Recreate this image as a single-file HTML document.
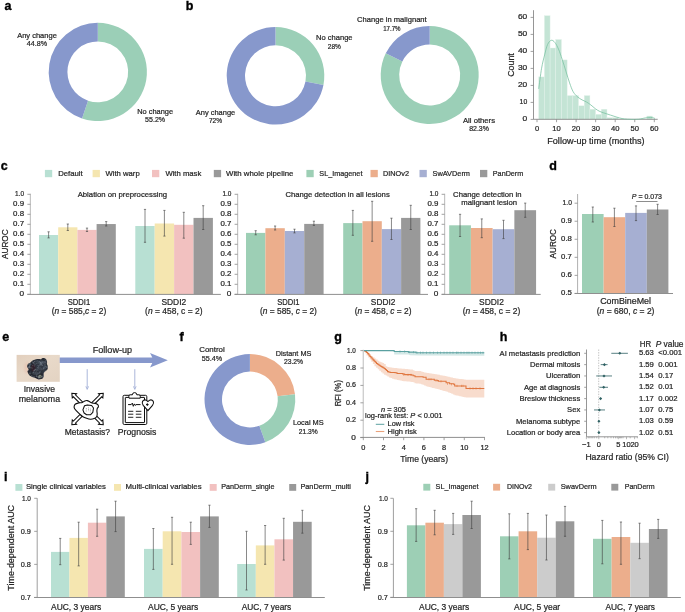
<!DOCTYPE html>
<html><head><meta charset="utf-8"><style>
html,body{margin:0;padding:0;background:#fff;}
svg{display:block;will-change:transform;}
text{font-family:"Liberation Sans",sans-serif;stroke:#262626;stroke-width:0.22px;}
</style></head><body>
<svg width="685" height="612" viewBox="0 0 685 612" fill="#262626">
<rect width="685" height="612" fill="#fff"/>
<text x="4.5" y="9.8" font-size="12.5" font-weight="bold" fill="#000" style="stroke:#000;stroke-width:0.35px">a</text>
<path d="M97.80,22.80A49.1,49.1 0 1 1 82.06,118.41L88.05,100.70A30.4,30.4 0 1 0 97.80,41.50Z" fill="#9bcfb7"/>
<path d="M82.06,118.41A49.1,49.1 0 0 1 97.80,22.80L97.80,41.50A30.4,30.4 0 0 0 88.05,100.70Z" fill="#8798cc"/>
<text x="37" y="38" font-size="7.5" text-anchor="middle" textLength="39.7" lengthAdjust="spacingAndGlyphs">Any change</text>
<text x="37" y="46.4" font-size="7.5" text-anchor="middle" textLength="20.3" lengthAdjust="spacingAndGlyphs">44.8%</text>
<text x="155.1" y="113.9" font-size="7.5" text-anchor="middle" textLength="35.9" lengthAdjust="spacingAndGlyphs">No change</text>
<text x="155.1" y="121.6" font-size="7.5" text-anchor="middle" textLength="20" lengthAdjust="spacingAndGlyphs">55.2%</text>
<text x="185.8" y="9.9" font-size="12.5" font-weight="bold" fill="#000" style="stroke:#000;stroke-width:0.35px">b</text>
<path d="M275.50,27.00A48.8,48.8 0 0 1 323.44,84.94L305.46,81.52A30.5,30.5 0 0 0 275.50,45.30Z" fill="#9bcfb7"/>
<path d="M323.44,84.94A48.8,48.8 0 1 1 275.50,27.00L275.50,45.30A30.5,30.5 0 1 0 305.46,81.52Z" fill="#8798cc"/>
<text x="334.3" y="40.2" font-size="7.5" text-anchor="middle" textLength="36.5" lengthAdjust="spacingAndGlyphs">No change</text>
<text x="334.3" y="48.6" font-size="7.5" text-anchor="middle" textLength="13.1" lengthAdjust="spacingAndGlyphs">28%</text>
<text x="215.5" y="114.8" font-size="7.5" text-anchor="middle" textLength="39.4" lengthAdjust="spacingAndGlyphs">Any change</text>
<text x="215.5" y="123" font-size="7.5" text-anchor="middle" textLength="13.1" lengthAdjust="spacingAndGlyphs">72%</text>
<path d="M429.70,26.00A49.0,49.0 0 1 1 385.77,53.29L402.36,61.49A30.5,30.5 0 1 0 429.70,44.50Z" fill="#9bcfb7"/>
<path d="M385.77,53.29A49.0,49.0 0 0 1 429.70,26.00L429.70,44.50A30.5,30.5 0 0 0 402.36,61.49Z" fill="#8798cc"/>
<text x="391.9" y="22.3" font-size="7.5" text-anchor="middle" textLength="69.6" lengthAdjust="spacingAndGlyphs">Change in malignant</text>
<text x="391.9" y="30.7" font-size="7.5" text-anchor="middle" textLength="17.4" lengthAdjust="spacingAndGlyphs">17.7%</text>
<text x="479" y="122.8" font-size="7.5" text-anchor="middle" textLength="32" lengthAdjust="spacingAndGlyphs">All others</text>
<text x="479.05" y="130.8" font-size="7.5" text-anchor="middle" textLength="19.7" lengthAdjust="spacingAndGlyphs">82.3%</text>
<rect x="538.7" y="76.9" width="5.69" height="42.5" fill="#c4e4d5" stroke="#e4f2eb" stroke-width="0.4"/>
<rect x="544.39" y="15.7" width="5.69" height="103.7" fill="#c4e4d5" stroke="#e4f2eb" stroke-width="0.4"/>
<rect x="550.08" y="48" width="5.69" height="71.4" fill="#c4e4d5" stroke="#e4f2eb" stroke-width="0.4"/>
<rect x="555.77" y="39.5" width="5.69" height="79.9" fill="#c4e4d5" stroke="#e4f2eb" stroke-width="0.4"/>
<rect x="561.46" y="59.9" width="5.69" height="59.5" fill="#c4e4d5" stroke="#e4f2eb" stroke-width="0.4"/>
<rect x="567.15" y="95.6" width="5.69" height="23.8" fill="#c4e4d5" stroke="#e4f2eb" stroke-width="0.4"/>
<rect x="572.84" y="95.6" width="5.69" height="23.8" fill="#c4e4d5" stroke="#e4f2eb" stroke-width="0.4"/>
<rect x="578.53" y="105.8" width="5.69" height="13.6" fill="#c4e4d5" stroke="#e4f2eb" stroke-width="0.4"/>
<rect x="584.22" y="95.6" width="5.69" height="23.8" fill="#c4e4d5" stroke="#e4f2eb" stroke-width="0.4"/>
<rect x="589.91" y="109.2" width="5.69" height="10.2" fill="#c4e4d5" stroke="#e4f2eb" stroke-width="0.4"/>
<rect x="595.6" y="114.3" width="5.69" height="5.1" fill="#c4e4d5" stroke="#e4f2eb" stroke-width="0.4"/>
<rect x="601.29" y="109.2" width="5.69" height="10.2" fill="#c4e4d5" stroke="#e4f2eb" stroke-width="0.4"/>
<rect x="606.98" y="117.7" width="5.69" height="1.7" fill="#c4e4d5" stroke="#e4f2eb" stroke-width="0.4"/>
<rect x="612.67" y="117.7" width="5.69" height="1.7" fill="#c4e4d5" stroke="#e4f2eb" stroke-width="0.4"/>
<rect x="646.81" y="116" width="5.69" height="3.4" fill="#c4e4d5" stroke="#e4f2eb" stroke-width="0.4"/>
<line x1="533.5" y1="10.2" x2="533.5" y2="119.4" stroke="#8a8a8a" stroke-width="0.9"/>
<line x1="533.5" y1="119.3" x2="657.7" y2="119.3" stroke="#8a8a8a" stroke-width="0.9"/>
<path d="M538.7,88.8C539.18,85.37 540.62,73.83 541.6,68.2C542.58,62.57 543.62,58.92 544.6,55C545.58,51.08 546.40,47.15 547.5,44.7C548.60,42.25 549.97,40.67 551.2,40.3C552.43,39.93 553.68,41.03 554.9,42.5C556.12,43.97 557.28,46.28 558.5,49.1C559.72,51.92 560.97,55.72 562.2,59.4C563.43,63.08 564.67,67.28 565.9,71.2C567.13,75.12 568.38,79.47 569.6,82.9C570.82,86.33 571.87,89.47 573.2,91.8C574.53,94.13 576.12,95.55 577.6,96.9C579.08,98.25 580.62,99.05 582.1,99.9C583.58,100.75 585.03,101.15 586.5,102C587.97,102.85 589.45,103.90 590.9,105C592.35,106.10 593.70,107.52 595.2,108.6C596.70,109.68 597.95,110.62 599.9,111.5C601.85,112.38 604.57,113.12 606.9,113.9C609.23,114.68 611.77,115.52 613.9,116.2C616.03,116.88 617.95,117.55 619.7,118C621.45,118.45 622.52,118.68 624.4,118.9C626.28,119.12 628.67,119.25 631,119.3C633.33,119.35 636.00,119.43 638.4,119.2C640.80,118.97 643.63,118.20 645.4,117.9C647.17,117.60 647.83,117.45 649,117.4C650.17,117.35 651.40,117.42 652.4,117.6C653.40,117.78 654.57,118.35 655,118.5" fill="none" stroke="#7cc3a3" stroke-width="0.8"/>
<line x1="530.6" y1="119.4" x2="533.5" y2="119.4" stroke="#8a8a8a" stroke-width="0.8"/>
<text x="527.2" y="121.15" font-size="7.3" text-anchor="end" textLength="4.7" lengthAdjust="spacingAndGlyphs">0</text>
<line x1="530.6" y1="102.4" x2="533.5" y2="102.4" stroke="#8a8a8a" stroke-width="0.8"/>
<text x="527.2" y="104.15" font-size="7.3" text-anchor="end" textLength="7.6" lengthAdjust="spacingAndGlyphs">10</text>
<line x1="530.6" y1="85.4" x2="533.5" y2="85.4" stroke="#8a8a8a" stroke-width="0.8"/>
<text x="527.2" y="87.15" font-size="7.3" text-anchor="end" textLength="9.3" lengthAdjust="spacingAndGlyphs">20</text>
<line x1="530.6" y1="68.4" x2="533.5" y2="68.4" stroke="#8a8a8a" stroke-width="0.8"/>
<text x="527.2" y="70.15" font-size="7.3" text-anchor="end" textLength="9.3" lengthAdjust="spacingAndGlyphs">30</text>
<line x1="530.6" y1="51.4" x2="533.5" y2="51.4" stroke="#8a8a8a" stroke-width="0.8"/>
<text x="527.2" y="53.15" font-size="7.3" text-anchor="end" textLength="9.3" lengthAdjust="spacingAndGlyphs">40</text>
<line x1="530.6" y1="34.4" x2="533.5" y2="34.4" stroke="#8a8a8a" stroke-width="0.8"/>
<text x="527.2" y="36.15" font-size="7.3" text-anchor="end" textLength="9.3" lengthAdjust="spacingAndGlyphs">50</text>
<line x1="530.6" y1="17.4" x2="533.5" y2="17.4" stroke="#8a8a8a" stroke-width="0.8"/>
<text x="527.2" y="19.15" font-size="7.3" text-anchor="end" textLength="9.3" lengthAdjust="spacingAndGlyphs">60</text>
<line x1="537" y1="119.3" x2="537" y2="122.2" stroke="#8a8a8a" stroke-width="0.8"/>
<text x="537" y="131.4" font-size="7.6" text-anchor="middle">0</text>
<line x1="556.55" y1="119.3" x2="556.55" y2="122.2" stroke="#8a8a8a" stroke-width="0.8"/>
<text x="556.55" y="131.4" font-size="7.6" text-anchor="middle">10</text>
<line x1="576.1" y1="119.3" x2="576.1" y2="122.2" stroke="#8a8a8a" stroke-width="0.8"/>
<text x="576.1" y="131.4" font-size="7.6" text-anchor="middle">20</text>
<line x1="595.65" y1="119.3" x2="595.65" y2="122.2" stroke="#8a8a8a" stroke-width="0.8"/>
<text x="595.65" y="131.4" font-size="7.6" text-anchor="middle">30</text>
<line x1="615.2" y1="119.3" x2="615.2" y2="122.2" stroke="#8a8a8a" stroke-width="0.8"/>
<text x="615.2" y="131.4" font-size="7.6" text-anchor="middle">40</text>
<line x1="634.75" y1="119.3" x2="634.75" y2="122.2" stroke="#8a8a8a" stroke-width="0.8"/>
<text x="634.75" y="131.4" font-size="7.6" text-anchor="middle">50</text>
<line x1="654.3" y1="119.3" x2="654.3" y2="122.2" stroke="#8a8a8a" stroke-width="0.8"/>
<text x="654.3" y="131.4" font-size="7.6" text-anchor="middle">60</text>
<text x="595.9" y="143.6" font-size="9.0" text-anchor="middle" textLength="97.2" lengthAdjust="spacingAndGlyphs">Follow-up time (months)</text>
<text x="514.4" y="65" font-size="8.8" text-anchor="middle" textLength="23.7" lengthAdjust="spacingAndGlyphs" transform="rotate(-90 514.4 65)">Count</text>
<text x="0.8" y="170" font-size="12.5" font-weight="bold" fill="#000" style="stroke:#000;stroke-width:0.35px">c</text>
<rect x="44.9" y="169.9" width="7.3" height="7.3" fill="#b8e0d3"/>
<text x="58.2" y="176.2" font-size="7.7" textLength="24.5" lengthAdjust="spacingAndGlyphs">Default</text>
<rect x="92.6" y="169.9" width="7.3" height="7.3" fill="#f5e6b0"/>
<text x="105.5" y="176.2" font-size="7.7">With warp</text>
<rect x="152" y="169.9" width="7.3" height="7.3" fill="#f2c1c0"/>
<text x="165.4" y="176.2" font-size="7.7">With mask</text>
<rect x="213.8" y="169.9" width="7.3" height="7.3" fill="#999999"/>
<text x="226" y="176.2" font-size="7.7" textLength="67.4" lengthAdjust="spacingAndGlyphs">With whole pipeline</text>
<rect x="306.4" y="169.9" width="7.3" height="7.3" fill="#9dcfb5"/>
<text x="319.3" y="176.2" font-size="7.7" textLength="43.1" lengthAdjust="spacingAndGlyphs">SL_Imagenet</text>
<rect x="370.5" y="169.9" width="7.3" height="7.3" fill="#ecae8c"/>
<text x="383" y="176.2" font-size="7.7" textLength="26" lengthAdjust="spacingAndGlyphs">DINOv2</text>
<rect x="419.5" y="169.9" width="7.3" height="7.3" fill="#a6afd2"/>
<text x="432.5" y="176.2" font-size="7.7" textLength="37.5" lengthAdjust="spacingAndGlyphs">SwAVDerm</text>
<rect x="480" y="169.9" width="7.3" height="7.3" fill="#999999"/>
<text x="492.8" y="176.2" font-size="7.7" textLength="30.5" lengthAdjust="spacingAndGlyphs">PanDerm</text>
<line x1="30.4" y1="193.8" x2="30.4" y2="294.3" stroke="#c4c4c4" stroke-width="1.2"/>
<line x1="27.4" y1="294.3" x2="30.4" y2="294.3" stroke="#8a8a8a" stroke-width="0.8"/>
<text x="24.1" y="296.3" font-size="7.8" text-anchor="end" textLength="4.6" lengthAdjust="spacingAndGlyphs">0</text>
<line x1="27.4" y1="284.3" x2="30.4" y2="284.3" stroke="#8a8a8a" stroke-width="0.8"/>
<text x="24.1" y="286.3" font-size="7.8" text-anchor="end" textLength="11" lengthAdjust="spacingAndGlyphs">0.1</text>
<line x1="27.4" y1="274.3" x2="30.4" y2="274.3" stroke="#8a8a8a" stroke-width="0.8"/>
<text x="24.1" y="276.3" font-size="7.8" text-anchor="end" textLength="11" lengthAdjust="spacingAndGlyphs">0.2</text>
<line x1="27.4" y1="264.3" x2="30.4" y2="264.3" stroke="#8a8a8a" stroke-width="0.8"/>
<text x="24.1" y="266.3" font-size="7.8" text-anchor="end" textLength="11" lengthAdjust="spacingAndGlyphs">0.3</text>
<line x1="27.4" y1="254.3" x2="30.4" y2="254.3" stroke="#8a8a8a" stroke-width="0.8"/>
<text x="24.1" y="256.3" font-size="7.8" text-anchor="end" textLength="11" lengthAdjust="spacingAndGlyphs">0.4</text>
<line x1="27.4" y1="244.3" x2="30.4" y2="244.3" stroke="#8a8a8a" stroke-width="0.8"/>
<text x="24.1" y="246.3" font-size="7.8" text-anchor="end" textLength="11" lengthAdjust="spacingAndGlyphs">0.5</text>
<line x1="27.4" y1="234.3" x2="30.4" y2="234.3" stroke="#8a8a8a" stroke-width="0.8"/>
<text x="24.1" y="236.3" font-size="7.8" text-anchor="end" textLength="11" lengthAdjust="spacingAndGlyphs">0.6</text>
<line x1="27.4" y1="224.3" x2="30.4" y2="224.3" stroke="#8a8a8a" stroke-width="0.8"/>
<text x="24.1" y="226.3" font-size="7.8" text-anchor="end" textLength="11" lengthAdjust="spacingAndGlyphs">0.7</text>
<line x1="27.4" y1="214.3" x2="30.4" y2="214.3" stroke="#8a8a8a" stroke-width="0.8"/>
<text x="24.1" y="216.3" font-size="7.8" text-anchor="end" textLength="11" lengthAdjust="spacingAndGlyphs">0.8</text>
<line x1="27.4" y1="204.3" x2="30.4" y2="204.3" stroke="#8a8a8a" stroke-width="0.8"/>
<text x="24.1" y="206.3" font-size="7.8" text-anchor="end" textLength="11" lengthAdjust="spacingAndGlyphs">0.9</text>
<line x1="27.4" y1="194.3" x2="30.4" y2="194.3" stroke="#8a8a8a" stroke-width="0.8"/>
<text x="24.1" y="196.3" font-size="7.8" text-anchor="end" textLength="9" lengthAdjust="spacingAndGlyphs">1.0</text>
<rect x="39" y="235" width="19.2" height="59.3" fill="#b8e0d3"/>
<rect x="58.2" y="227.3" width="19.2" height="67" fill="#f5e6b0"/>
<rect x="77.4" y="229.9" width="19.2" height="64.4" fill="#f2c1c0"/>
<rect x="96.6" y="224.05" width="19.2" height="70.25" fill="#999999"/>
<line x1="48.6" y1="231.8" x2="48.6" y2="237.9" stroke="#404040" stroke-width="0.62"/>
<line x1="47.5" y1="231.8" x2="49.7" y2="231.8" stroke="#404040" stroke-width="0.62"/>
<line x1="47.5" y1="237.9" x2="49.7" y2="237.9" stroke="#404040" stroke-width="0.62"/>
<line x1="67.8" y1="224" x2="67.8" y2="230.5" stroke="#404040" stroke-width="0.62"/>
<line x1="66.7" y1="224" x2="68.9" y2="224" stroke="#404040" stroke-width="0.62"/>
<line x1="66.7" y1="230.5" x2="68.9" y2="230.5" stroke="#404040" stroke-width="0.62"/>
<line x1="87" y1="228.1" x2="87" y2="231.5" stroke="#404040" stroke-width="0.62"/>
<line x1="85.9" y1="228.1" x2="88.1" y2="228.1" stroke="#404040" stroke-width="0.62"/>
<line x1="85.9" y1="231.5" x2="88.1" y2="231.5" stroke="#404040" stroke-width="0.62"/>
<line x1="106.2" y1="221.6" x2="106.2" y2="226" stroke="#404040" stroke-width="0.62"/>
<line x1="105.1" y1="221.6" x2="107.3" y2="221.6" stroke="#404040" stroke-width="0.62"/>
<line x1="105.1" y1="226" x2="107.3" y2="226" stroke="#404040" stroke-width="0.62"/>
<rect x="135.3" y="226" width="19.4" height="68.3" fill="#b8e0d3"/>
<rect x="154.7" y="223.5" width="19.4" height="70.8" fill="#f5e6b0"/>
<rect x="174.1" y="224.8" width="19.4" height="69.5" fill="#f2c1c0"/>
<rect x="193.5" y="217.9" width="19.4" height="76.4" fill="#999999"/>
<line x1="145" y1="209.4" x2="145" y2="242.3" stroke="#404040" stroke-width="0.62"/>
<line x1="143.9" y1="209.4" x2="146.1" y2="209.4" stroke="#404040" stroke-width="0.62"/>
<line x1="143.9" y1="242.3" x2="146.1" y2="242.3" stroke="#404040" stroke-width="0.62"/>
<line x1="164.4" y1="210.4" x2="164.4" y2="236.1" stroke="#404040" stroke-width="0.62"/>
<line x1="163.3" y1="210.4" x2="165.5" y2="210.4" stroke="#404040" stroke-width="0.62"/>
<line x1="163.3" y1="236.1" x2="165.5" y2="236.1" stroke="#404040" stroke-width="0.62"/>
<line x1="183.8" y1="212.3" x2="183.8" y2="238.2" stroke="#404040" stroke-width="0.62"/>
<line x1="182.7" y1="212.3" x2="184.9" y2="212.3" stroke="#404040" stroke-width="0.62"/>
<line x1="182.7" y1="238.2" x2="184.9" y2="238.2" stroke="#404040" stroke-width="0.62"/>
<line x1="203.2" y1="205.7" x2="203.2" y2="229.5" stroke="#404040" stroke-width="0.62"/>
<line x1="202.1" y1="205.7" x2="204.3" y2="205.7" stroke="#404040" stroke-width="0.62"/>
<line x1="202.1" y1="229.5" x2="204.3" y2="229.5" stroke="#404040" stroke-width="0.62"/>
<line x1="27.3" y1="294.4" x2="220.9" y2="294.4" stroke="#8f8f8f" stroke-width="1.0"/>
<text x="122.4" y="197" font-size="7.7" text-anchor="middle" textLength="89.5" lengthAdjust="spacingAndGlyphs">Ablation on preprocessing</text>
<text x="8.1" y="244.2" font-size="8.9" text-anchor="middle" textLength="29.6" lengthAdjust="spacingAndGlyphs" transform="rotate(-90 8.1 244.2)">AUROC</text>
<line x1="237.6" y1="193.8" x2="237.6" y2="294.3" stroke="#c4c4c4" stroke-width="1.2"/>
<line x1="234.6" y1="294.3" x2="237.6" y2="294.3" stroke="#8a8a8a" stroke-width="0.8"/>
<text x="231.4" y="296.3" font-size="7.8" text-anchor="end" textLength="4.6" lengthAdjust="spacingAndGlyphs">0</text>
<line x1="234.6" y1="284.3" x2="237.6" y2="284.3" stroke="#8a8a8a" stroke-width="0.8"/>
<text x="231.4" y="286.3" font-size="7.8" text-anchor="end" textLength="11" lengthAdjust="spacingAndGlyphs">0.1</text>
<line x1="234.6" y1="274.3" x2="237.6" y2="274.3" stroke="#8a8a8a" stroke-width="0.8"/>
<text x="231.4" y="276.3" font-size="7.8" text-anchor="end" textLength="11" lengthAdjust="spacingAndGlyphs">0.2</text>
<line x1="234.6" y1="264.3" x2="237.6" y2="264.3" stroke="#8a8a8a" stroke-width="0.8"/>
<text x="231.4" y="266.3" font-size="7.8" text-anchor="end" textLength="11" lengthAdjust="spacingAndGlyphs">0.3</text>
<line x1="234.6" y1="254.3" x2="237.6" y2="254.3" stroke="#8a8a8a" stroke-width="0.8"/>
<text x="231.4" y="256.3" font-size="7.8" text-anchor="end" textLength="11" lengthAdjust="spacingAndGlyphs">0.4</text>
<line x1="234.6" y1="244.3" x2="237.6" y2="244.3" stroke="#8a8a8a" stroke-width="0.8"/>
<text x="231.4" y="246.3" font-size="7.8" text-anchor="end" textLength="11" lengthAdjust="spacingAndGlyphs">0.5</text>
<line x1="234.6" y1="234.3" x2="237.6" y2="234.3" stroke="#8a8a8a" stroke-width="0.8"/>
<text x="231.4" y="236.3" font-size="7.8" text-anchor="end" textLength="11" lengthAdjust="spacingAndGlyphs">0.6</text>
<line x1="234.6" y1="224.3" x2="237.6" y2="224.3" stroke="#8a8a8a" stroke-width="0.8"/>
<text x="231.4" y="226.3" font-size="7.8" text-anchor="end" textLength="11" lengthAdjust="spacingAndGlyphs">0.7</text>
<line x1="234.6" y1="214.3" x2="237.6" y2="214.3" stroke="#8a8a8a" stroke-width="0.8"/>
<text x="231.4" y="216.3" font-size="7.8" text-anchor="end" textLength="11" lengthAdjust="spacingAndGlyphs">0.8</text>
<line x1="234.6" y1="204.3" x2="237.6" y2="204.3" stroke="#8a8a8a" stroke-width="0.8"/>
<text x="231.4" y="206.3" font-size="7.8" text-anchor="end" textLength="11" lengthAdjust="spacingAndGlyphs">0.9</text>
<line x1="234.6" y1="194.3" x2="237.6" y2="194.3" stroke="#8a8a8a" stroke-width="0.8"/>
<text x="231.4" y="196.3" font-size="7.8" text-anchor="end" textLength="9" lengthAdjust="spacingAndGlyphs">1.0</text>
<rect x="246" y="232.9" width="19.4" height="61.4" fill="#9dcfb5"/>
<rect x="265.4" y="228.2" width="19.4" height="66.1" fill="#ecae8c"/>
<rect x="284.8" y="231" width="19.4" height="63.3" fill="#a6afd2"/>
<rect x="304.2" y="223.9" width="19.4" height="70.4" fill="#999999"/>
<line x1="255.7" y1="230.7" x2="255.7" y2="234.8" stroke="#404040" stroke-width="0.62"/>
<line x1="254.6" y1="230.7" x2="256.8" y2="230.7" stroke="#404040" stroke-width="0.62"/>
<line x1="254.6" y1="234.8" x2="256.8" y2="234.8" stroke="#404040" stroke-width="0.62"/>
<line x1="275.1" y1="226" x2="275.1" y2="230" stroke="#404040" stroke-width="0.62"/>
<line x1="274" y1="226" x2="276.2" y2="226" stroke="#404040" stroke-width="0.62"/>
<line x1="274" y1="230" x2="276.2" y2="230" stroke="#404040" stroke-width="0.62"/>
<line x1="294.5" y1="229.2" x2="294.5" y2="232.9" stroke="#404040" stroke-width="0.62"/>
<line x1="293.4" y1="229.2" x2="295.6" y2="229.2" stroke="#404040" stroke-width="0.62"/>
<line x1="293.4" y1="232.9" x2="295.6" y2="232.9" stroke="#404040" stroke-width="0.62"/>
<line x1="313.9" y1="221.2" x2="313.9" y2="225.4" stroke="#404040" stroke-width="0.62"/>
<line x1="312.8" y1="221.2" x2="315" y2="221.2" stroke="#404040" stroke-width="0.62"/>
<line x1="312.8" y1="225.4" x2="315" y2="225.4" stroke="#404040" stroke-width="0.62"/>
<rect x="343.2" y="223.1" width="19.3" height="71.2" fill="#9dcfb5"/>
<rect x="362.5" y="221.2" width="19.3" height="73.1" fill="#ecae8c"/>
<rect x="381.8" y="229.1" width="19.3" height="65.2" fill="#a6afd2"/>
<rect x="401.1" y="217.9" width="19.3" height="76.4" fill="#999999"/>
<line x1="352.85" y1="210.4" x2="352.85" y2="235.3" stroke="#404040" stroke-width="0.62"/>
<line x1="351.75" y1="210.4" x2="353.95" y2="210.4" stroke="#404040" stroke-width="0.62"/>
<line x1="351.75" y1="235.3" x2="353.95" y2="235.3" stroke="#404040" stroke-width="0.62"/>
<line x1="372.15" y1="201.3" x2="372.15" y2="241.3" stroke="#404040" stroke-width="0.62"/>
<line x1="371.05" y1="201.3" x2="373.25" y2="201.3" stroke="#404040" stroke-width="0.62"/>
<line x1="371.05" y1="241.3" x2="373.25" y2="241.3" stroke="#404040" stroke-width="0.62"/>
<line x1="391.45" y1="218.2" x2="391.45" y2="239.5" stroke="#404040" stroke-width="0.62"/>
<line x1="390.35" y1="218.2" x2="392.55" y2="218.2" stroke="#404040" stroke-width="0.62"/>
<line x1="390.35" y1="239.5" x2="392.55" y2="239.5" stroke="#404040" stroke-width="0.62"/>
<line x1="410.75" y1="205.3" x2="410.75" y2="229.5" stroke="#404040" stroke-width="0.62"/>
<line x1="409.65" y1="205.3" x2="411.85" y2="205.3" stroke="#404040" stroke-width="0.62"/>
<line x1="409.65" y1="229.5" x2="411.85" y2="229.5" stroke="#404040" stroke-width="0.62"/>
<line x1="234.6" y1="294.4" x2="428" y2="294.4" stroke="#8f8f8f" stroke-width="1.0"/>
<text x="337.6" y="197" font-size="7.7" text-anchor="middle" textLength="104.3" lengthAdjust="spacingAndGlyphs">Change detection in all lesions</text>
<line x1="444.6" y1="193.8" x2="444.6" y2="294.3" stroke="#c4c4c4" stroke-width="1.2"/>
<line x1="441.6" y1="294.3" x2="444.6" y2="294.3" stroke="#8a8a8a" stroke-width="0.8"/>
<text x="438.4" y="296.3" font-size="7.8" text-anchor="end" textLength="4.6" lengthAdjust="spacingAndGlyphs">0</text>
<line x1="441.6" y1="284.3" x2="444.6" y2="284.3" stroke="#8a8a8a" stroke-width="0.8"/>
<text x="438.4" y="286.3" font-size="7.8" text-anchor="end" textLength="11" lengthAdjust="spacingAndGlyphs">0.1</text>
<line x1="441.6" y1="274.3" x2="444.6" y2="274.3" stroke="#8a8a8a" stroke-width="0.8"/>
<text x="438.4" y="276.3" font-size="7.8" text-anchor="end" textLength="11" lengthAdjust="spacingAndGlyphs">0.2</text>
<line x1="441.6" y1="264.3" x2="444.6" y2="264.3" stroke="#8a8a8a" stroke-width="0.8"/>
<text x="438.4" y="266.3" font-size="7.8" text-anchor="end" textLength="11" lengthAdjust="spacingAndGlyphs">0.3</text>
<line x1="441.6" y1="254.3" x2="444.6" y2="254.3" stroke="#8a8a8a" stroke-width="0.8"/>
<text x="438.4" y="256.3" font-size="7.8" text-anchor="end" textLength="11" lengthAdjust="spacingAndGlyphs">0.4</text>
<line x1="441.6" y1="244.3" x2="444.6" y2="244.3" stroke="#8a8a8a" stroke-width="0.8"/>
<text x="438.4" y="246.3" font-size="7.8" text-anchor="end" textLength="11" lengthAdjust="spacingAndGlyphs">0.5</text>
<line x1="441.6" y1="234.3" x2="444.6" y2="234.3" stroke="#8a8a8a" stroke-width="0.8"/>
<text x="438.4" y="236.3" font-size="7.8" text-anchor="end" textLength="11" lengthAdjust="spacingAndGlyphs">0.6</text>
<line x1="441.6" y1="224.3" x2="444.6" y2="224.3" stroke="#8a8a8a" stroke-width="0.8"/>
<text x="438.4" y="226.3" font-size="7.8" text-anchor="end" textLength="11" lengthAdjust="spacingAndGlyphs">0.7</text>
<line x1="441.6" y1="214.3" x2="444.6" y2="214.3" stroke="#8a8a8a" stroke-width="0.8"/>
<text x="438.4" y="216.3" font-size="7.8" text-anchor="end" textLength="11" lengthAdjust="spacingAndGlyphs">0.8</text>
<line x1="441.6" y1="204.3" x2="444.6" y2="204.3" stroke="#8a8a8a" stroke-width="0.8"/>
<text x="438.4" y="206.3" font-size="7.8" text-anchor="end" textLength="11" lengthAdjust="spacingAndGlyphs">0.9</text>
<line x1="441.6" y1="194.3" x2="444.6" y2="194.3" stroke="#8a8a8a" stroke-width="0.8"/>
<text x="438.4" y="196.3" font-size="7.8" text-anchor="end" textLength="9" lengthAdjust="spacingAndGlyphs">1.0</text>
<rect x="449.2" y="225.3" width="21.72" height="69" fill="#9dcfb5"/>
<rect x="470.92" y="228" width="21.72" height="66.3" fill="#ecae8c"/>
<rect x="492.64" y="229.2" width="21.72" height="65.1" fill="#a6afd2"/>
<rect x="514.36" y="210.2" width="21.72" height="84.1" fill="#999999"/>
<line x1="460.06" y1="214.3" x2="460.06" y2="236.5" stroke="#404040" stroke-width="0.62"/>
<line x1="458.96" y1="214.3" x2="461.16" y2="214.3" stroke="#404040" stroke-width="0.62"/>
<line x1="458.96" y1="236.5" x2="461.16" y2="236.5" stroke="#404040" stroke-width="0.62"/>
<line x1="481.78" y1="218.9" x2="481.78" y2="237.7" stroke="#404040" stroke-width="0.62"/>
<line x1="480.68" y1="218.9" x2="482.88" y2="218.9" stroke="#404040" stroke-width="0.62"/>
<line x1="480.68" y1="237.7" x2="482.88" y2="237.7" stroke="#404040" stroke-width="0.62"/>
<line x1="503.5" y1="220.3" x2="503.5" y2="238.6" stroke="#404040" stroke-width="0.62"/>
<line x1="502.4" y1="220.3" x2="504.6" y2="220.3" stroke="#404040" stroke-width="0.62"/>
<line x1="502.4" y1="238.6" x2="504.6" y2="238.6" stroke="#404040" stroke-width="0.62"/>
<line x1="525.22" y1="203.1" x2="525.22" y2="217.3" stroke="#404040" stroke-width="0.62"/>
<line x1="524.12" y1="203.1" x2="526.32" y2="203.1" stroke="#404040" stroke-width="0.62"/>
<line x1="524.12" y1="217.3" x2="526.32" y2="217.3" stroke="#404040" stroke-width="0.62"/>
<line x1="441.6" y1="294.4" x2="540.7" y2="294.4" stroke="#8f8f8f" stroke-width="1.0"/>
<text x="487.3" y="196.7" font-size="7.7" text-anchor="middle" textLength="68.4" lengthAdjust="spacingAndGlyphs">Change detection in</text>
<text x="489.2" y="205" font-size="7.7" text-anchor="middle" textLength="55.9" lengthAdjust="spacingAndGlyphs">malignant lesion</text>
<text x="79" y="304.5" font-size="8.7" text-anchor="middle" textLength="22.5" lengthAdjust="spacingAndGlyphs">SDDI1</text>
<text x="79" y="314" font-size="8.7" text-anchor="middle" textLength="54.4" lengthAdjust="spacingAndGlyphs">(<tspan font-style="italic">n</tspan> = 585,<tspan font-style="italic">c</tspan> = 2)</text>
<text x="173.8" y="304.5" font-size="8.7" text-anchor="middle" textLength="24.8" lengthAdjust="spacingAndGlyphs">SDDI2</text>
<text x="173.8" y="314" font-size="8.7" text-anchor="middle" textLength="57.5" lengthAdjust="spacingAndGlyphs">(<tspan font-style="italic">n</tspan> = 458, <tspan>c</tspan> = 2)</text>
<text x="288.4" y="304.5" font-size="8.7" text-anchor="middle" textLength="22.4" lengthAdjust="spacingAndGlyphs">SDDI1</text>
<text x="288.4" y="314" font-size="8.7" text-anchor="middle" textLength="57" lengthAdjust="spacingAndGlyphs">(<tspan font-style="italic">n</tspan> = 585, <tspan font-style="italic">c</tspan> = 2)</text>
<text x="383.1" y="304.5" font-size="8.7" text-anchor="middle" textLength="24.5" lengthAdjust="spacingAndGlyphs">SDDI2</text>
<text x="383.1" y="314" font-size="8.7" text-anchor="middle" textLength="56.7" lengthAdjust="spacingAndGlyphs">(<tspan font-style="italic">n</tspan> = 458, <tspan font-style="italic">c</tspan> = 2)</text>
<text x="491.5" y="304.5" font-size="8.7" text-anchor="middle" textLength="24.8" lengthAdjust="spacingAndGlyphs">SDDI2</text>
<text x="491.5" y="314" font-size="8.7" text-anchor="middle" textLength="57.5" lengthAdjust="spacingAndGlyphs">(<tspan font-style="italic">n</tspan> = 458, <tspan>c</tspan> = 2)</text>
<text x="549.2" y="170.4" font-size="12.5" font-weight="bold" fill="#000" style="stroke:#000;stroke-width:0.35px">d</text>
<line x1="577.6" y1="194" x2="577.6" y2="293.4" stroke="#b0b0b0" stroke-width="1.0"/>
<line x1="574.6" y1="293.4" x2="577.6" y2="293.4" stroke="#8a8a8a" stroke-width="0.8"/>
<text x="571.9" y="294.8" font-size="7.2" text-anchor="end" textLength="10.8" lengthAdjust="spacingAndGlyphs">0.5</text>
<line x1="574.6" y1="275.36" x2="577.6" y2="275.36" stroke="#8a8a8a" stroke-width="0.8"/>
<text x="571.9" y="276.76" font-size="7.2" text-anchor="end" textLength="10.8" lengthAdjust="spacingAndGlyphs">0.6</text>
<line x1="574.6" y1="257.32" x2="577.6" y2="257.32" stroke="#8a8a8a" stroke-width="0.8"/>
<text x="571.9" y="258.72" font-size="7.2" text-anchor="end" textLength="10.8" lengthAdjust="spacingAndGlyphs">0.7</text>
<line x1="574.6" y1="239.28" x2="577.6" y2="239.28" stroke="#8a8a8a" stroke-width="0.8"/>
<text x="571.9" y="240.68" font-size="7.2" text-anchor="end" textLength="10.8" lengthAdjust="spacingAndGlyphs">0.8</text>
<line x1="574.6" y1="221.24" x2="577.6" y2="221.24" stroke="#8a8a8a" stroke-width="0.8"/>
<text x="571.9" y="222.64" font-size="7.2" text-anchor="end" textLength="10.8" lengthAdjust="spacingAndGlyphs">0.9</text>
<line x1="574.6" y1="203.2" x2="577.6" y2="203.2" stroke="#8a8a8a" stroke-width="0.8"/>
<text x="571.9" y="204.6" font-size="7.2" text-anchor="end" textLength="9.3" lengthAdjust="spacingAndGlyphs">1.0</text>
<rect x="582" y="214" width="21.6" height="79.4" fill="#9dcfb5"/>
<rect x="603.6" y="217.2" width="21.6" height="76.2" fill="#ecae8c"/>
<rect x="625.2" y="212.9" width="21.6" height="80.5" fill="#a6afd2"/>
<rect x="646.8" y="209.5" width="21.6" height="83.9" fill="#999999"/>
<line x1="592.8" y1="207" x2="592.8" y2="222" stroke="#404040" stroke-width="0.62"/>
<line x1="591.7" y1="207" x2="593.9" y2="207" stroke="#404040" stroke-width="0.62"/>
<line x1="591.7" y1="222" x2="593.9" y2="222" stroke="#404040" stroke-width="0.62"/>
<line x1="614.4" y1="208.2" x2="614.4" y2="226.5" stroke="#404040" stroke-width="0.62"/>
<line x1="613.3" y1="208.2" x2="615.5" y2="208.2" stroke="#404040" stroke-width="0.62"/>
<line x1="613.3" y1="226.5" x2="615.5" y2="226.5" stroke="#404040" stroke-width="0.62"/>
<line x1="636" y1="205.9" x2="636" y2="220.6" stroke="#404040" stroke-width="0.62"/>
<line x1="634.9" y1="205.9" x2="637.1" y2="205.9" stroke="#404040" stroke-width="0.62"/>
<line x1="634.9" y1="220.6" x2="637.1" y2="220.6" stroke="#404040" stroke-width="0.62"/>
<line x1="657.6" y1="204.3" x2="657.6" y2="214.5" stroke="#404040" stroke-width="0.62"/>
<line x1="656.5" y1="204.3" x2="658.7" y2="204.3" stroke="#404040" stroke-width="0.62"/>
<line x1="656.5" y1="214.5" x2="658.7" y2="214.5" stroke="#404040" stroke-width="0.62"/>
<line x1="574.7" y1="293.5" x2="673" y2="293.5" stroke="#8f8f8f" stroke-width="1.0"/>
<line x1="636.2" y1="201.5" x2="657.5" y2="201.5" stroke="#707070" stroke-width="0.8"/>
<text x="646.9" y="198.8" font-size="7.7" text-anchor="middle" textLength="30.2" lengthAdjust="spacingAndGlyphs"><tspan font-style="italic">P</tspan> = 0.073</text>
<text x="625.6" y="303.6" font-size="8.9" text-anchor="middle" textLength="50.8" lengthAdjust="spacingAndGlyphs">ComBineMel</text>
<text x="625.6" y="313.6" font-size="8.7" text-anchor="middle" textLength="57.7" lengthAdjust="spacingAndGlyphs">(<tspan font-style="italic">n</tspan> = 680, <tspan font-style="italic">c</tspan> = 2)</text>
<text x="555.7" y="243.7" font-size="8.8" text-anchor="middle" textLength="29.4" lengthAdjust="spacingAndGlyphs" transform="rotate(-90 555.7 243.7)">AUROC</text>
<text x="2.3" y="341.1" font-size="12.5" font-weight="bold" fill="#000" style="stroke:#000;stroke-width:0.35px">e</text>
<defs>
<linearGradient id="skin" x1="0" y1="0" x2="1" y2="1"><stop offset="0" stop-color="#e2cfbd"/><stop offset="0.45" stop-color="#e8d9c9"/><stop offset="1" stop-color="#e3d3c2"/></linearGradient>
<radialGradient id="les" cx="0.6" cy="0.4" r="0.65"><stop offset="0" stop-color="#353c47"/><stop offset="0.6" stop-color="#272b33"/><stop offset="1" stop-color="#22252c"/></radialGradient>
<filter id="bl" x="-0.2" y="-0.2" width="1.4" height="1.4"><feGaussianBlur stdDeviation="0.35"/></filter>
<filter id="bl2" x="-0.5" y="-0.5" width="2" height="2"><feGaussianBlur stdDeviation="0.8"/></filter>
<filter id="tex" x="0" y="0" width="1" height="1"><feTurbulence type="fractalNoise" baseFrequency="0.42" numOctaves="2" seed="11" result="n"/><feColorMatrix in="n" type="matrix" values="0 0 0 0 0.33  0 0 0 0 0.38  0 0 0 0 0.45  0 0 0 2.0 -0.9" result="c"/><feComposite in="c" in2="SourceGraphic" operator="in"/><feGaussianBlur stdDeviation="0.4"/></filter>
</defs>
<rect x="16.6" y="354.9" width="43.2" height="26.9" fill="url(#skin)"/>
<ellipse cx="27" cy="368" rx="3" ry="6" fill="#e6bba9" opacity="0.5" filter="url(#bl2)"/>
<g filter="url(#bl)"><path d="M27.3,365.4C27.48,364.92 27.72,364.25 28.2,363.8C28.68,363.35 29.62,363.13 30.2,362.7C30.78,362.27 31.12,361.63 31.7,361.2C32.28,360.77 33.00,360.43 33.7,360.1C34.40,359.77 35.08,359.38 35.9,359.2C36.72,359.02 37.78,359.00 38.6,359C39.42,359.00 40.22,359.32 40.8,359.2C41.38,359.08 41.60,358.48 42.1,358.3C42.60,358.12 43.22,358.03 43.8,358.1C44.38,358.17 45.12,358.33 45.6,358.7C46.08,359.07 46.45,359.70 46.7,360.3C46.95,360.90 47.07,361.68 47.1,362.3C47.13,362.92 46.82,363.45 46.9,364C46.98,364.55 47.45,364.97 47.6,365.6C47.75,366.23 47.83,367.13 47.8,367.8C47.77,368.47 47.73,369.08 47.4,369.6C47.07,370.12 46.32,370.47 45.8,370.9C45.28,371.33 44.67,371.68 44.3,372.2C43.93,372.72 43.68,373.38 43.6,374C43.52,374.62 43.90,375.25 43.8,375.9C43.70,376.55 43.43,377.38 43,377.9C42.57,378.42 41.93,378.73 41.2,379C40.47,379.27 39.42,379.57 38.6,379.5C37.78,379.43 37.05,378.93 36.3,378.6C35.55,378.27 34.87,377.80 34.1,377.5C33.33,377.20 32.50,377.17 31.7,376.8C30.90,376.43 29.92,375.92 29.3,375.3C28.68,374.68 28.30,373.77 28,373.1C27.70,372.43 27.40,371.85 27.5,371.3C27.60,370.75 28.52,370.32 28.6,369.8C28.68,369.28 28.25,368.72 28,368.2C27.75,367.68 27.22,367.17 27.1,366.7C26.98,366.23 27.12,365.88 27.3,365.4Z" fill="url(#les)"/><ellipse cx="33.2" cy="367.8" rx="2.2" ry="3.6" fill="#33202a" opacity="0.8"/><ellipse cx="41.5" cy="362.5" rx="3.6" ry="2.0" fill="#56616e" opacity="0.55"/><ellipse cx="37" cy="361.5" rx="2.5" ry="1.3" fill="#4b5562" opacity="0.5"/><ellipse cx="44.8" cy="367" rx="1.6" ry="2.6" fill="#4d5866" opacity="0.55"/><ellipse cx="38.5" cy="368.5" rx="2.2" ry="2.0" fill="#444d59" opacity="0.5"/><ellipse cx="35.5" cy="373.3" rx="3.2" ry="1.7" fill="#4a5560" opacity="0.55"/><ellipse cx="29.8" cy="364.6" rx="1.5" ry="1.2" fill="#5a6a7c" opacity="0.6"/><ellipse cx="30" cy="373" rx="1.6" ry="1.1" fill="#3e4752" opacity="0.6"/><ellipse cx="40" cy="376.5" rx="1.7" ry="1.8" fill="#8f9882" opacity="0.85"/><ellipse cx="40.1" cy="376.8" rx="0.75" ry="0.9" fill="#33383e" opacity="0.75"/></g>
<path d="M27.3,365.4C27.48,364.92 27.72,364.25 28.2,363.8C28.68,363.35 29.62,363.13 30.2,362.7C30.78,362.27 31.12,361.63 31.7,361.2C32.28,360.77 33.00,360.43 33.7,360.1C34.40,359.77 35.08,359.38 35.9,359.2C36.72,359.02 37.78,359.00 38.6,359C39.42,359.00 40.22,359.32 40.8,359.2C41.38,359.08 41.60,358.48 42.1,358.3C42.60,358.12 43.22,358.03 43.8,358.1C44.38,358.17 45.12,358.33 45.6,358.7C46.08,359.07 46.45,359.70 46.7,360.3C46.95,360.90 47.07,361.68 47.1,362.3C47.13,362.92 46.82,363.45 46.9,364C46.98,364.55 47.45,364.97 47.6,365.6C47.75,366.23 47.83,367.13 47.8,367.8C47.77,368.47 47.73,369.08 47.4,369.6C47.07,370.12 46.32,370.47 45.8,370.9C45.28,371.33 44.67,371.68 44.3,372.2C43.93,372.72 43.68,373.38 43.6,374C43.52,374.62 43.90,375.25 43.8,375.9C43.70,376.55 43.43,377.38 43,377.9C42.57,378.42 41.93,378.73 41.2,379C40.47,379.27 39.42,379.57 38.6,379.5C37.78,379.43 37.05,378.93 36.3,378.6C35.55,378.27 34.87,377.80 34.1,377.5C33.33,377.20 32.50,377.17 31.7,376.8C30.90,376.43 29.92,375.92 29.3,375.3C28.68,374.68 28.30,373.77 28,373.1C27.70,372.43 27.40,371.85 27.5,371.3C27.60,370.75 28.52,370.32 28.6,369.8C28.68,369.28 28.25,368.72 28,368.2C27.75,367.68 27.22,367.17 27.1,366.7C26.98,366.23 27.12,365.88 27.3,365.4Z" fill="#000" filter="url(#tex)" opacity="0.7"/>
<path d="M59.7,357.6L152.3,357.6L150,352.9L167.8,360.3L150,367.5L152.3,362.9L59.7,362.9Z" fill="#8798cc"/>
<line x1="87.2" y1="369.2" x2="87.2" y2="387.5" stroke="#8798cc" stroke-width="0.7"/>
<path d="M85.9,386.4L87.2,389.4L88.5,386.4" fill="none" stroke="#8798cc" stroke-width="0.7"/>
<line x1="134.8" y1="369.2" x2="134.8" y2="387.5" stroke="#8798cc" stroke-width="0.7"/>
<path d="M133.5,386.4L134.8,389.4L136.10000000000002,386.4" fill="none" stroke="#8798cc" stroke-width="0.7"/>
<text x="112.4" y="352.5" font-size="8.8" text-anchor="middle" textLength="39.3" lengthAdjust="spacingAndGlyphs">Follow-up</text>
<text x="39.4" y="391.8" font-size="8.7" text-anchor="middle" textLength="31.5" lengthAdjust="spacingAndGlyphs">Invasive</text>
<text x="39.4" y="402.3" font-size="8.7" text-anchor="middle" textLength="41.3" lengthAdjust="spacingAndGlyphs">melanoma</text>
<text x="87.4" y="434.7" font-size="8.6" text-anchor="middle" textLength="45.3" lengthAdjust="spacingAndGlyphs">Metastasis?</text>
<text x="137.1" y="434.5" font-size="8.6" text-anchor="middle" textLength="38.6" lengthAdjust="spacingAndGlyphs">Prognosis</text>
<path d="M82.28,405.73L73.37,396.82L72.28,397.92L71.85,393.25L76.52,393.68L75.42,394.77L84.33,403.68Z" fill="#fff" stroke="#0d0d0d" stroke-width="1.05" stroke-linejoin="miter"/>
<path d="M90.77,403.68L99.68,394.77L98.58,393.68L103.25,393.25L102.82,397.92L101.73,396.82L92.82,405.73Z" fill="#fff" stroke="#0d0d0d" stroke-width="1.05" stroke-linejoin="miter"/>
<path d="M92.82,412.17L101.73,421.08L102.82,419.98L103.25,424.65L98.58,424.22L99.68,423.13L90.77,414.22Z" fill="#fff" stroke="#0d0d0d" stroke-width="1.05" stroke-linejoin="miter"/>
<path d="M84.33,414.22L75.42,423.13L76.52,424.22L71.85,424.65L72.28,419.98L73.37,421.08L82.28,412.17Z" fill="#fff" stroke="#0d0d0d" stroke-width="1.05" stroke-linejoin="miter"/>
<path d="M74.2,406.1C74.37,405.33 74.77,404.52 75.5,404C76.23,403.48 77.47,403.27 78.6,403C79.73,402.73 81.27,402.75 82.3,402.4C83.33,402.05 83.97,401.20 84.8,400.9C85.63,400.60 86.48,400.45 87.3,400.6C88.12,400.75 88.88,401.40 89.7,401.8C90.52,402.20 91.27,402.73 92.2,403C93.13,403.27 94.37,403.13 95.3,403.4C96.23,403.67 97.28,404.03 97.8,404.6C98.32,405.17 98.50,406.13 98.4,406.8C98.30,407.47 97.45,407.88 97.2,408.6C96.95,409.32 96.90,410.17 96.9,411.1C96.90,412.03 97.25,413.27 97.2,414.2C97.15,415.13 97.12,415.97 96.6,416.7C96.08,417.43 95.13,418.18 94.1,418.6C93.07,419.02 91.65,419.25 90.4,419.2C89.15,419.15 87.85,418.72 86.6,418.3C85.35,417.88 84.03,417.38 82.9,416.7C81.77,416.02 80.83,415.13 79.8,414.2C78.77,413.27 77.58,412.03 76.7,411.1C75.82,410.17 74.92,409.43 74.5,408.6C74.08,407.77 74.03,406.87 74.2,406.1Z" fill="#fff" stroke="#0d0d0d" stroke-width="1.1"/>
<path d="M82.9,409.9L84.5,405.8L87.3,404.9L91.6,405.5L93.5,408L92.8,412.4L90.4,414.8L86.6,414.8L84.1,413Z" fill="#fff" stroke="#0d0d0d" stroke-width="1.05" stroke-linejoin="round"/>
<line x1="86.3" y1="408" x2="86.3" y2="411.7" stroke="#666" stroke-width="0.55" stroke-dasharray="1,0.6"/>
<line x1="88.5" y1="407.4" x2="88.5" y2="411.1" stroke="#666" stroke-width="0.55" stroke-dasharray="1,0.6"/>
<line x1="90.4" y1="408.6" x2="90.4" y2="412.4" stroke="#666" stroke-width="0.55" stroke-dasharray="1,0.6"/>
<g fill="none" stroke="#0d0d0d" stroke-width="1.0"><rect x="123" y="395.3" width="23.8" height="29.2" rx="1.3" fill="#fff"/><rect x="125.3" y="397.4" width="19.2" height="25.2" rx="0.4"/><path d="M129,398.2 L128.8,396.3 Q128.8,394.8 130.3,394.8 L132.4,394.8 A2.2,2.2 0 0 1 136.8,394.8 L138.8,394.8 Q140.3,394.8 140.3,396.3 L140.2,398.2 Z" fill="#fff"/><path d="M128.1,404.6 L131.2,404.6 L132.3,403.1 L133.3,406.3 L134.3,403.9 L135.2,405.4 L136,404.6 L140.5,404.6" stroke-width="1.0"/><path d="M128.1,411.3H133.3M135.8,411.3H141.4M128.1,414.2H133.3M135.8,414.2H141.4M128.1,417.3H133.3M135.8,417.3H141.4" stroke="#222" stroke-width="1.0"/><path d="M147.9,410.6 L143.2,405.4 Q141.6,403.2 142.5,401.4 Q144.2,399.0 146.5,400.4 L147.9,401.6 L149.3,400.4 Q151.7,399.0 153.3,401.4 Q154.2,403.2 152.5,405.4 Z" fill="#fff" stroke-width="1.05"/><path d="M147.3,403.3V405.9M146,404.6H148.6" stroke-width="1.0"/></g>
<text x="179.6" y="340.6" font-size="12.5" font-weight="bold" fill="#000" style="stroke:#000;stroke-width:0.35px">f</text>
<path d="M249.90,354.10A45.4,45.4 0 0 1 295.01,394.36L277.62,396.34A27.9,27.9 0 0 0 249.90,371.60Z" fill="#ecae8c"/>
<path d="M295.01,394.36A45.4,45.4 0 0 1 265.28,442.22L259.35,425.75A27.9,27.9 0 0 0 277.62,396.34Z" fill="#9bcfb7"/>
<path d="M265.28,442.22A45.4,45.4 0 1 1 249.90,354.10L249.90,371.60A27.9,27.9 0 1 0 259.35,425.75Z" fill="#8798cc"/>
<text x="212" y="352.2" font-size="7.6" text-anchor="middle" textLength="25.6" lengthAdjust="spacingAndGlyphs">Control</text>
<text x="212" y="360.5" font-size="7.6" text-anchor="middle" textLength="20.4" lengthAdjust="spacingAndGlyphs">55.4%</text>
<text x="293.5" y="355.5" font-size="7.6" text-anchor="middle" textLength="35.7" lengthAdjust="spacingAndGlyphs">Distant MS</text>
<text x="293.5" y="364.1" font-size="7.6" text-anchor="middle" textLength="19.2" lengthAdjust="spacingAndGlyphs">23.2%</text>
<text x="308.3" y="425.1" font-size="7.6" text-anchor="middle" textLength="30.8" lengthAdjust="spacingAndGlyphs">Local MS</text>
<text x="308.3" y="433.7" font-size="7.6" text-anchor="middle" textLength="19" lengthAdjust="spacingAndGlyphs">21.3%</text>
<text x="334.3" y="340.7" font-size="12.5" font-weight="bold" fill="#000" style="stroke:#000;stroke-width:0.35px">g</text>
<path d="M363.30,350.60L364.90,350.60L364.90,351.61L366.50,351.61L366.50,352.61L368.10,352.61L368.10,353.62L369.70,353.62L369.70,354.66L371.30,354.66L371.30,355.96L372.90,355.96L372.90,357.25L374.50,357.25L374.50,358.51L376.10,358.51L376.10,359.61L377.70,359.61L377.70,360.71L379.30,360.71L379.30,361.72L380.90,361.72L380.90,362.37L382.50,362.37L382.50,363.01L384.10,363.01L384.10,364.09L385.70,364.09L385.70,366.33L387.30,366.33L387.30,366.89L388.90,366.89L388.90,367.35L390.50,367.35L390.50,367.54L392.10,367.54L392.10,367.73L393.70,367.73L393.70,367.92L395.30,367.92L395.30,368.12L396.90,368.12L396.90,368.27L398.50,368.27L398.50,368.39L400.10,368.39L400.10,368.51L401.70,368.51L401.70,368.63L403.30,368.63L403.30,368.76L404.90,368.76L404.90,368.93L406.50,368.93L406.50,369.10L408.10,369.10L408.10,369.27L409.70,369.27L409.70,369.44L411.30,369.44L411.30,369.61L412.90,369.61L412.90,370.22L414.50,370.22L414.50,371.10L416.10,371.10L416.10,371.10L417.70,371.10L417.70,371.10L419.30,371.10L419.30,371.10L420.90,371.10L420.90,371.43L422.50,371.43L422.50,372.01L424.10,372.01L424.10,372.60L425.70,372.60L425.70,372.84L427.30,372.84L427.30,373.08L428.90,373.08L428.90,373.32L430.50,373.32L430.50,373.56L432.10,373.56L432.10,373.80L433.70,373.80L433.70,374.04L435.30,374.04L435.30,374.28L436.90,374.28L436.90,374.52L438.50,374.52L438.50,374.82L440.10,374.82L440.10,375.13L441.70,375.13L441.70,375.45L443.30,375.45L443.30,375.77L444.90,375.77L444.90,376.08L446.50,376.08L446.50,376.44L448.10,376.44L448.10,376.83L449.70,376.83L449.70,377.22L451.30,377.22L451.30,377.61L452.90,377.61L452.90,378.00L454.50,378.00L454.50,378.30L456.10,378.30L456.10,378.51L457.70,378.51L457.70,378.71L459.30,378.71L459.30,378.91L460.90,378.91L460.90,379.12L462.50,379.12L462.50,379.32L464.10,379.32L464.10,379.52L465.70,379.52L465.70,379.70L467.30,379.70L467.30,379.70L468.90,379.70L468.90,379.70L470.50,379.70L470.50,379.70L472.10,379.70L472.10,379.70L473.70,379.70L473.70,379.70L475.30,379.70L475.30,379.70L476.90,379.70L476.90,379.70L478.50,379.70L478.50,379.70L480.10,379.70L480.10,379.70L481.70,379.70L481.70,379.70L483.30,379.70L483.30,379.70L484.30,379.70L484.30,379.70L484.30,397.60L484.30,397.60L483.30,397.60L483.30,397.60L481.70,397.60L481.70,397.60L480.10,397.60L480.10,397.60L478.50,397.60L478.50,397.60L476.90,397.60L476.90,397.60L475.30,397.60L475.30,397.60L473.70,397.60L473.70,397.60L472.10,397.60L472.10,397.60L470.50,397.60L470.50,397.60L468.90,397.60L468.90,397.60L467.30,397.60L467.30,397.60L465.70,397.60L465.70,397.29L464.10,397.29L464.10,396.94L462.50,396.94L462.50,396.58L460.90,396.58L460.90,396.23L459.30,396.23L459.30,395.87L457.70,395.87L457.70,395.52L456.10,395.52L456.10,395.17L454.50,395.17L454.50,394.51L452.90,394.51L452.90,393.78L451.30,393.78L451.30,393.05L449.70,393.05L449.70,392.45L448.10,392.45L448.10,391.87L446.50,391.87L446.50,391.33L444.90,391.33L444.90,390.88L443.30,390.88L443.30,390.43L441.70,390.43L441.70,389.98L440.10,389.98L440.10,389.53L438.50,389.53L438.50,389.12L436.90,389.12L436.90,388.72L435.30,388.72L435.30,388.32L433.70,388.32L433.70,387.91L432.10,387.91L432.10,387.51L430.50,387.51L430.50,387.11L428.90,387.11L428.90,386.70L427.30,386.70L427.30,386.23L425.70,386.23L425.70,385.55L424.10,385.55L424.10,384.87L422.50,384.87L422.50,384.18L420.90,384.18L420.90,383.74L419.30,383.74L419.30,383.62L417.70,383.62L417.70,383.49L416.10,383.49L416.10,383.15L414.50,383.15L414.50,382.35L412.90,382.35L412.90,381.91L411.30,381.91L411.30,381.76L409.70,381.76L409.70,381.61L408.10,381.61L408.10,381.46L406.50,381.46L406.50,381.31L404.90,381.31L404.90,381.16L403.30,381.16L403.30,380.89L401.70,380.89L401.70,380.55L400.10,380.55L400.10,380.21L398.50,380.21L398.50,379.89L396.90,379.89L396.90,379.59L395.30,379.59L395.30,379.29L393.70,379.29L393.70,378.76L392.10,378.76L392.10,378.11L390.50,378.11L390.50,377.46L388.90,377.46L388.90,376.57L387.30,376.57L387.30,375.61L385.70,375.61L385.70,374.64L384.10,374.64L384.10,373.43L382.50,373.43L382.50,372.14L380.90,372.14L380.90,370.84L379.30,370.84L379.30,369.33L377.70,369.33L377.70,367.76L376.10,367.76L376.10,366.19L374.50,366.19L374.50,364.05L372.90,364.05L372.90,361.77L371.30,361.77L371.30,359.49L369.70,359.49L369.70,357.47L368.10,357.47L368.10,355.49L366.50,355.49L366.50,353.20L364.90,353.20L364.90,350.60L363.30,350.60Z" fill="#f8dccd"/>
<path d="M394.2,350.9 L394.2,351.5 L408.4,351.5 L408.4,352.1 L416,352.1 L416,352.7 L484.3,352.7 L484.3,355.8 L420,355.6 L410,355.2 L408.4,354.6 L394.2,354.5 Z" fill="#d3e8e6"/>
<path d="M363.30,350.60H364.40V351.06H365.50V351.52H366.60V352.50H367.70V353.63H368.80V355.02H369.90V356.41H371.00V357.79H372.10V359.00H373.20V360.10H374.30V361.20H375.40V362.30H376.50V363.40H377.60V364.34H378.70V365.09H379.80V365.83H380.90V366.49H382.00V367.13H383.10V367.81H384.20V368.57H385.30V369.40H386.40V370.50H387.50V371.60H388.60V371.94H389.70V372.28H390.40V372.50H395.10V372.70H397.00V373.50H402.70V373.90H404.60V374.60H411.20V374.90H413.10V375.80H415.00V376.80H423.10V377.20H426.10V379.20H433.30V379.20H434.30V380.30H437.40V380.60H438.40V381.30H444.50V381.30H446.10V382.80H449.60V383.80H453.70V384.30H454.70V385.90H465.00V385.90H466.00V388.40H484.30V388.40" fill="none" stroke="#e0763f" stroke-width="1.05"/>
<path d="M363.30,350.60H394.20V351.50H408.40V352.10H416.00V352.70H484.30V352.70" fill="none" stroke="#5aa0a0" stroke-width="1.05"/>
<line x1="400" y1="350.4" x2="400" y2="352.6" stroke="#5aa0a0" stroke-width="0.55"/>
<line x1="404.6" y1="350.4" x2="404.6" y2="352.6" stroke="#5aa0a0" stroke-width="0.55"/>
<line x1="409.3" y1="351" x2="409.3" y2="353.2" stroke="#5aa0a0" stroke-width="0.55"/>
<line x1="413.5" y1="351" x2="413.5" y2="353.2" stroke="#5aa0a0" stroke-width="0.55"/>
<line x1="417" y1="351.6" x2="417" y2="353.8" stroke="#5aa0a0" stroke-width="0.55"/>
<line x1="420.5" y1="351.6" x2="420.5" y2="353.8" stroke="#5aa0a0" stroke-width="0.55"/>
<line x1="423" y1="351.6" x2="423" y2="353.8" stroke="#5aa0a0" stroke-width="0.55"/>
<line x1="426.5" y1="351.6" x2="426.5" y2="353.8" stroke="#5aa0a0" stroke-width="0.55"/>
<line x1="430" y1="351.6" x2="430" y2="353.8" stroke="#5aa0a0" stroke-width="0.55"/>
<line x1="433.5" y1="351.6" x2="433.5" y2="353.8" stroke="#5aa0a0" stroke-width="0.55"/>
<line x1="437.5" y1="351.6" x2="437.5" y2="353.8" stroke="#5aa0a0" stroke-width="0.55"/>
<line x1="440.5" y1="351.6" x2="440.5" y2="353.8" stroke="#5aa0a0" stroke-width="0.55"/>
<line x1="444" y1="351.6" x2="444" y2="353.8" stroke="#5aa0a0" stroke-width="0.55"/>
<line x1="447" y1="351.6" x2="447" y2="353.8" stroke="#5aa0a0" stroke-width="0.55"/>
<line x1="450" y1="351.6" x2="450" y2="353.8" stroke="#5aa0a0" stroke-width="0.55"/>
<line x1="453" y1="351.6" x2="453" y2="353.8" stroke="#5aa0a0" stroke-width="0.55"/>
<line x1="456.5" y1="351.6" x2="456.5" y2="353.8" stroke="#5aa0a0" stroke-width="0.55"/>
<line x1="458" y1="351.6" x2="458" y2="353.8" stroke="#5aa0a0" stroke-width="0.55"/>
<line x1="461" y1="351.6" x2="461" y2="353.8" stroke="#5aa0a0" stroke-width="0.55"/>
<line x1="464" y1="351.6" x2="464" y2="353.8" stroke="#5aa0a0" stroke-width="0.55"/>
<line x1="467" y1="351.6" x2="467" y2="353.8" stroke="#5aa0a0" stroke-width="0.55"/>
<line x1="469" y1="351.6" x2="469" y2="353.8" stroke="#5aa0a0" stroke-width="0.55"/>
<line x1="472" y1="351.6" x2="472" y2="353.8" stroke="#5aa0a0" stroke-width="0.55"/>
<line x1="475" y1="351.6" x2="475" y2="353.8" stroke="#5aa0a0" stroke-width="0.55"/>
<line x1="478" y1="351.6" x2="478" y2="353.8" stroke="#5aa0a0" stroke-width="0.55"/>
<line x1="480.5" y1="351.6" x2="480.5" y2="353.8" stroke="#5aa0a0" stroke-width="0.55"/>
<line x1="483" y1="351.6" x2="483" y2="353.8" stroke="#5aa0a0" stroke-width="0.55"/>
<line x1="403.5" y1="373.5" x2="403.5" y2="375.7" stroke="#e0763f" stroke-width="0.55"/>
<line x1="408" y1="373.8" x2="408" y2="376" stroke="#e0763f" stroke-width="0.55"/>
<line x1="411" y1="373.8" x2="411" y2="376" stroke="#e0763f" stroke-width="0.55"/>
<line x1="429" y1="378.1" x2="429" y2="380.3" stroke="#e0763f" stroke-width="0.55"/>
<line x1="431" y1="378.1" x2="431" y2="380.3" stroke="#e0763f" stroke-width="0.55"/>
<line x1="436" y1="379.5" x2="436" y2="381.7" stroke="#e0763f" stroke-width="0.55"/>
<line x1="441" y1="380.2" x2="441" y2="382.4" stroke="#e0763f" stroke-width="0.55"/>
<line x1="447.5" y1="382.7" x2="447.5" y2="384.9" stroke="#e0763f" stroke-width="0.55"/>
<line x1="451.5" y1="383.2" x2="451.5" y2="385.4" stroke="#e0763f" stroke-width="0.55"/>
<line x1="457" y1="384.8" x2="457" y2="387" stroke="#e0763f" stroke-width="0.55"/>
<line x1="461.5" y1="384.8" x2="461.5" y2="387" stroke="#e0763f" stroke-width="0.55"/>
<line x1="463" y1="384.8" x2="463" y2="387" stroke="#e0763f" stroke-width="0.55"/>
<line x1="470" y1="387.3" x2="470" y2="389.5" stroke="#e0763f" stroke-width="0.55"/>
<line x1="473" y1="387.3" x2="473" y2="389.5" stroke="#e0763f" stroke-width="0.55"/>
<line x1="476" y1="387.3" x2="476" y2="389.5" stroke="#e0763f" stroke-width="0.55"/>
<line x1="480" y1="387.3" x2="480" y2="389.5" stroke="#e0763f" stroke-width="0.55"/>
<line x1="363.3" y1="349.8" x2="363.3" y2="437.4" stroke="#cfcfcf" stroke-width="1.4"/>
<line x1="360.3" y1="437.4" x2="484.9" y2="437.4" stroke="#8f8f8f" stroke-width="1.0"/>
<line x1="360.4" y1="437.6" x2="363.3" y2="437.6" stroke="#8a8a8a" stroke-width="0.8"/>
<text x="355.9" y="439.5" font-size="7.4" text-anchor="end" textLength="4.6" lengthAdjust="spacingAndGlyphs">0</text>
<line x1="360.4" y1="420.2" x2="363.3" y2="420.2" stroke="#8a8a8a" stroke-width="0.8"/>
<text x="355.9" y="422.1" font-size="7.4" text-anchor="end" textLength="9.9" lengthAdjust="spacingAndGlyphs">0.2</text>
<line x1="360.4" y1="402.8" x2="363.3" y2="402.8" stroke="#8a8a8a" stroke-width="0.8"/>
<text x="355.9" y="404.7" font-size="7.4" text-anchor="end" textLength="9.9" lengthAdjust="spacingAndGlyphs">0.4</text>
<line x1="360.4" y1="385.4" x2="363.3" y2="385.4" stroke="#8a8a8a" stroke-width="0.8"/>
<text x="355.9" y="387.3" font-size="7.4" text-anchor="end" textLength="9.9" lengthAdjust="spacingAndGlyphs">0.6</text>
<line x1="360.4" y1="368" x2="363.3" y2="368" stroke="#8a8a8a" stroke-width="0.8"/>
<text x="355.9" y="369.9" font-size="7.4" text-anchor="end" textLength="9.9" lengthAdjust="spacingAndGlyphs">0.8</text>
<line x1="360.4" y1="350.6" x2="363.3" y2="350.6" stroke="#8a8a8a" stroke-width="0.8"/>
<text x="355.9" y="352.5" font-size="7.4" text-anchor="end" textLength="8.8" lengthAdjust="spacingAndGlyphs">1.0</text>
<line x1="363.3" y1="437.4" x2="363.3" y2="440.2" stroke="#8a8a8a" stroke-width="0.8"/>
<text x="363.3" y="449.6" font-size="7.4" text-anchor="middle">0</text>
<line x1="383.5" y1="437.4" x2="383.5" y2="440.2" stroke="#8a8a8a" stroke-width="0.8"/>
<text x="383.5" y="449.6" font-size="7.4" text-anchor="middle">2</text>
<line x1="403.7" y1="437.4" x2="403.7" y2="440.2" stroke="#8a8a8a" stroke-width="0.8"/>
<text x="403.7" y="449.6" font-size="7.4" text-anchor="middle">4</text>
<line x1="423.9" y1="437.4" x2="423.9" y2="440.2" stroke="#8a8a8a" stroke-width="0.8"/>
<text x="423.9" y="449.6" font-size="7.4" text-anchor="middle">6</text>
<line x1="444.1" y1="437.4" x2="444.1" y2="440.2" stroke="#8a8a8a" stroke-width="0.8"/>
<text x="444.1" y="449.6" font-size="7.4" text-anchor="middle">8</text>
<line x1="464.3" y1="437.4" x2="464.3" y2="440.2" stroke="#8a8a8a" stroke-width="0.8"/>
<text x="464.3" y="449.6" font-size="7.4" text-anchor="middle">10</text>
<line x1="484.5" y1="437.4" x2="484.5" y2="440.2" stroke="#8a8a8a" stroke-width="0.8"/>
<text x="484.5" y="449.6" font-size="7.4" text-anchor="middle">12</text>
<text x="424.1" y="462" font-size="9.0" text-anchor="middle" textLength="47.8" lengthAdjust="spacingAndGlyphs">Time (years)</text>
<text x="341.3" y="393.2" font-size="8.6" text-anchor="middle" textLength="26.3" lengthAdjust="spacingAndGlyphs" transform="rotate(-90 341.3 393.2)">RFI (%)</text>
<text x="393.5" y="411.6" font-size="7.6" text-anchor="middle" textLength="25" lengthAdjust="spacingAndGlyphs"><tspan font-style="italic">n</tspan> = 305</text>
<text x="403.8" y="418.4" font-size="7.6" text-anchor="middle" textLength="77.5" lengthAdjust="spacingAndGlyphs">log-rank test: <tspan font-style="italic">P</tspan> &lt; 0.001</text>
<line x1="375.8" y1="424.3" x2="384.3" y2="424.3" stroke="#5aa0a0" stroke-width="1.0"/>
<line x1="375.8" y1="431.5" x2="384.3" y2="431.5" stroke="#eaa27c" stroke-width="1.1"/>
<text x="387.6" y="426.4" font-size="7.6" textLength="26.9" lengthAdjust="spacingAndGlyphs">Low risk</text>
<text x="387.6" y="433.6" font-size="7.6" textLength="29.2" lengthAdjust="spacingAndGlyphs">High risk</text>
<text x="499.7" y="340.9" font-size="12.5" font-weight="bold" fill="#000" style="stroke:#000;stroke-width:0.35px">h</text>
<line x1="586.5" y1="349.5" x2="586.5" y2="436.8" stroke="#8a8a8a" stroke-width="0.9"/>
<line x1="598.7" y1="349.5" x2="598.7" y2="436.5" stroke="#9a9a9a" stroke-width="0.6" stroke-dasharray="1.4,1.2"/>
<line x1="584.2" y1="353.3" x2="586.5" y2="353.3" stroke="#8a8a8a" stroke-width="0.8"/>
<text x="580.2" y="355.8" font-size="7.6" text-anchor="end">AI metastasis prediction</text>
<line x1="611.3" y1="353.3" x2="627.9" y2="353.3" stroke="#2f6163" stroke-width="0.8"/>
<rect x="618.70" y="352.20" width="2.2" height="2.2" fill="#2f6163" transform="rotate(45 619.80 353.30)"/>
<text x="638.9" y="355.3" font-size="7.7">5.63</text>
<text x="658.3" y="355.3" font-size="7.7">&lt;0.001</text>
<line x1="584.2" y1="364.63" x2="586.5" y2="364.63" stroke="#8a8a8a" stroke-width="0.8"/>
<text x="580.2" y="367.13" font-size="7.6" text-anchor="end">Dermal mitosis</text>
<line x1="600.7" y1="364.63" x2="607.6" y2="364.63" stroke="#2f6163" stroke-width="0.8"/>
<rect x="603.30" y="363.53" width="2.2" height="2.2" fill="#2f6163" transform="rotate(45 604.40 364.63)"/>
<text x="638.9" y="366.63" font-size="7.7">1.59</text>
<text x="658.3" y="366.63" font-size="7.7">0.001</text>
<line x1="584.2" y1="375.96" x2="586.5" y2="375.96" stroke="#8a8a8a" stroke-width="0.8"/>
<text x="580.2" y="378.46" font-size="7.6" text-anchor="end">Ulceration</text>
<line x1="596.2" y1="375.96" x2="612" y2="375.96" stroke="#2f6163" stroke-width="0.8"/>
<rect x="602.90" y="374.86" width="2.2" height="2.2" fill="#2f6163" transform="rotate(45 604.00 375.96)"/>
<text x="638.9" y="377.96" font-size="7.7">1.54</text>
<text x="658.3" y="377.96" font-size="7.7">0.17</text>
<line x1="584.2" y1="387.29" x2="586.5" y2="387.29" stroke="#8a8a8a" stroke-width="0.8"/>
<text x="580.2" y="389.79" font-size="7.6" text-anchor="end">Age at diagnosis</text>
<line x1="599.4" y1="387.29" x2="608" y2="387.29" stroke="#2f6163" stroke-width="0.8"/>
<rect x="602.60" y="386.19" width="2.2" height="2.2" fill="#2f6163" transform="rotate(45 603.70 387.29)"/>
<text x="638.9" y="389.29" font-size="7.7">1.52</text>
<text x="658.3" y="389.29" font-size="7.7">0.01</text>
<line x1="584.2" y1="398.62" x2="586.5" y2="398.62" stroke="#8a8a8a" stroke-width="0.8"/>
<text x="580.2" y="401.12" font-size="7.6" text-anchor="end">Breslow thickness</text>
<line x1="599.8" y1="398.62" x2="601.4" y2="398.62" stroke="#2f6163" stroke-width="0.8"/>
<rect x="599.50" y="397.52" width="2.2" height="2.2" fill="#2f6163" transform="rotate(45 600.60 398.62)"/>
<text x="638.9" y="400.62" font-size="7.7">1.17</text>
<text x="658.3" y="400.62" font-size="7.7">0.002</text>
<line x1="584.2" y1="409.95" x2="586.5" y2="409.95" stroke="#8a8a8a" stroke-width="0.8"/>
<text x="580.2" y="412.45" font-size="7.6" text-anchor="end">Sex</text>
<line x1="594" y1="409.95" x2="605" y2="409.95" stroke="#2f6163" stroke-width="0.8"/>
<rect x="598.30" y="408.85" width="2.2" height="2.2" fill="#2f6163" transform="rotate(45 599.40 409.95)"/>
<text x="638.9" y="411.95" font-size="7.7">1.07</text>
<text x="658.3" y="411.95" font-size="7.7">0.75</text>
<line x1="584.2" y1="421.28" x2="586.5" y2="421.28" stroke="#8a8a8a" stroke-width="0.8"/>
<text x="580.2" y="423.78" font-size="7.6" text-anchor="end">Melanoma subtype</text>
<line x1="598.4" y1="421.28" x2="599.4" y2="421.28" stroke="#2f6163" stroke-width="0.8"/>
<rect x="597.80" y="420.18" width="2.2" height="2.2" fill="#2f6163" transform="rotate(45 598.90 421.28)"/>
<text x="638.9" y="423.28" font-size="7.7">1.03</text>
<text x="658.3" y="423.28" font-size="7.7">0.59</text>
<line x1="584.2" y1="432.61" x2="586.5" y2="432.61" stroke="#8a8a8a" stroke-width="0.8"/>
<text x="580.2" y="435.11" font-size="7.6" text-anchor="end">Location or body area</text>
<line x1="598.4" y1="432.61" x2="599.4" y2="432.61" stroke="#2f6163" stroke-width="0.8"/>
<rect x="597.80" y="431.51" width="2.2" height="2.2" fill="#2f6163" transform="rotate(45 598.90 432.61)"/>
<text x="638.9" y="434.61" font-size="7.7">1.02</text>
<text x="658.3" y="434.61" font-size="7.7">0.51</text>
<text x="639.8" y="346.6" font-size="8.3" textLength="11.4" lengthAdjust="spacingAndGlyphs">HR</text>
<text x="655.7" y="346.6" font-size="8.3" textLength="27.8" lengthAdjust="spacingAndGlyphs"><tspan font-style="italic">P</tspan> value</text>
<line x1="586.4" y1="436.8" x2="637.9" y2="436.8" stroke="#8a8a8a" stroke-width="0.9"/>
<line x1="586.4" y1="436.8" x2="586.4" y2="439.2" stroke="#8a8a8a" stroke-width="0.6"/>
<line x1="588.3" y1="436.8" x2="588.3" y2="438.3" stroke="#8a8a8a" stroke-width="0.6"/>
<line x1="589.8" y1="436.8" x2="589.8" y2="438.3" stroke="#8a8a8a" stroke-width="0.6"/>
<line x1="591.2" y1="436.8" x2="591.2" y2="438.3" stroke="#8a8a8a" stroke-width="0.6"/>
<line x1="592.7" y1="436.8" x2="592.7" y2="438.3" stroke="#8a8a8a" stroke-width="0.6"/>
<line x1="594.3" y1="436.8" x2="594.3" y2="438.3" stroke="#8a8a8a" stroke-width="0.6"/>
<line x1="596.7" y1="436.8" x2="596.7" y2="438.3" stroke="#8a8a8a" stroke-width="0.6"/>
<line x1="598.8" y1="436.8" x2="598.8" y2="439.2" stroke="#8a8a8a" stroke-width="0.6"/>
<line x1="604.7" y1="436.8" x2="604.7" y2="438.3" stroke="#8a8a8a" stroke-width="0.6"/>
<line x1="607.8" y1="436.8" x2="607.8" y2="438.3" stroke="#8a8a8a" stroke-width="0.6"/>
<line x1="611" y1="436.8" x2="611" y2="438.3" stroke="#8a8a8a" stroke-width="0.6"/>
<line x1="613.5" y1="436.8" x2="613.5" y2="438.3" stroke="#8a8a8a" stroke-width="0.6"/>
<line x1="615.5" y1="436.8" x2="615.5" y2="438.3" stroke="#8a8a8a" stroke-width="0.6"/>
<line x1="617.2" y1="436.8" x2="617.2" y2="438.3" stroke="#8a8a8a" stroke-width="0.6"/>
<line x1="618.3" y1="436.8" x2="618.3" y2="439.2" stroke="#8a8a8a" stroke-width="0.6"/>
<line x1="619.5" y1="436.8" x2="619.5" y2="438.3" stroke="#8a8a8a" stroke-width="0.6"/>
<line x1="620.5" y1="436.8" x2="620.5" y2="438.3" stroke="#8a8a8a" stroke-width="0.6"/>
<line x1="621.6" y1="436.8" x2="621.6" y2="438.3" stroke="#8a8a8a" stroke-width="0.6"/>
<line x1="623" y1="436.8" x2="623" y2="438.3" stroke="#8a8a8a" stroke-width="0.6"/>
<line x1="626.5" y1="436.8" x2="626.5" y2="439.2" stroke="#8a8a8a" stroke-width="0.6"/>
<line x1="630.2" y1="436.8" x2="630.2" y2="438.3" stroke="#8a8a8a" stroke-width="0.6"/>
<line x1="634.6" y1="436.8" x2="634.6" y2="439.2" stroke="#8a8a8a" stroke-width="0.6"/>
<line x1="637.3" y1="436.8" x2="637.3" y2="438.3" stroke="#8a8a8a" stroke-width="0.6"/>
<text x="586.4" y="447.2" font-size="7.5" text-anchor="middle">−1</text>
<text x="598.8" y="447.2" font-size="7.5" text-anchor="middle">0</text>
<text x="618.3" y="447.2" font-size="7.5" text-anchor="middle">5</text>
<text x="626.5" y="447.2" font-size="7.5" text-anchor="middle">10</text>
<text x="634.6" y="447.2" font-size="7.5" text-anchor="middle">20</text>
<text x="627.1" y="460.2" font-size="9.2" text-anchor="middle" textLength="83.4" lengthAdjust="spacingAndGlyphs">Hazard ratio (95% CI)</text>
<text x="4.1" y="480.9" font-size="12.5" font-weight="bold" fill="#000" style="stroke:#000;stroke-width:0.35px">i</text>
<rect x="15.4" y="484" width="7" height="6.8" fill="#b8e0d3"/>
<text x="25.9" y="488.9" font-size="7.6" textLength="80.1" lengthAdjust="spacingAndGlyphs">Single clinical variables</text>
<rect x="114" y="484" width="7" height="6.8" fill="#f5e6b0"/>
<text x="125.6" y="488.9" font-size="7.6" textLength="76" lengthAdjust="spacingAndGlyphs">Multi-clinical variables</text>
<rect x="209.7" y="484" width="7" height="6.8" fill="#f2c1c0"/>
<text x="221.2" y="488.9" font-size="7.6" textLength="53.3" lengthAdjust="spacingAndGlyphs">PanDerm_single</text>
<rect x="289.2" y="484" width="7" height="6.8" fill="#999999"/>
<text x="300.4" y="488.9" font-size="7.6" textLength="50.6" lengthAdjust="spacingAndGlyphs">PanDerm_multi</text>
<line x1="37.2" y1="498.2" x2="37.2" y2="597.4" stroke="#8c8c8c" stroke-width="0.85"/>
<line x1="34.2" y1="597.4" x2="37.2" y2="597.4" stroke="#8a8a8a" stroke-width="0.8"/>
<text x="30.9" y="599.9" font-size="7.8" text-anchor="end" textLength="10.2" lengthAdjust="spacingAndGlyphs">0.7</text>
<line x1="34.2" y1="564.37" x2="37.2" y2="564.37" stroke="#8a8a8a" stroke-width="0.8"/>
<text x="30.9" y="566.87" font-size="7.8" text-anchor="end" textLength="10.2" lengthAdjust="spacingAndGlyphs">0.8</text>
<line x1="34.2" y1="531.34" x2="37.2" y2="531.34" stroke="#8a8a8a" stroke-width="0.8"/>
<text x="30.9" y="533.84" font-size="7.8" text-anchor="end" textLength="10.2" lengthAdjust="spacingAndGlyphs">0.9</text>
<line x1="34.2" y1="498.31" x2="37.2" y2="498.31" stroke="#8a8a8a" stroke-width="0.8"/>
<text x="30.9" y="500.81" font-size="7.8" text-anchor="end" textLength="9" lengthAdjust="spacingAndGlyphs">1.0</text>
<rect x="51" y="551.9" width="18.45" height="45.5" fill="#b8e0d3"/>
<rect x="69.45" y="537.9" width="18.45" height="59.5" fill="#f5e6b0"/>
<rect x="87.9" y="522.7" width="18.45" height="74.7" fill="#f2c1c0"/>
<rect x="106.35" y="516.4" width="18.45" height="81" fill="#999999"/>
<line x1="60.23" y1="538.4" x2="60.23" y2="564.7" stroke="#404040" stroke-width="0.62"/>
<line x1="59.12" y1="538.4" x2="61.33" y2="538.4" stroke="#404040" stroke-width="0.62"/>
<line x1="59.12" y1="564.7" x2="61.33" y2="564.7" stroke="#404040" stroke-width="0.62"/>
<line x1="78.67" y1="522.2" x2="78.67" y2="565.9" stroke="#404040" stroke-width="0.62"/>
<line x1="77.58" y1="522.2" x2="79.77" y2="522.2" stroke="#404040" stroke-width="0.62"/>
<line x1="77.58" y1="565.9" x2="79.77" y2="565.9" stroke="#404040" stroke-width="0.62"/>
<line x1="97.12" y1="509.2" x2="97.12" y2="536.3" stroke="#404040" stroke-width="0.62"/>
<line x1="96.03" y1="509.2" x2="98.22" y2="509.2" stroke="#404040" stroke-width="0.62"/>
<line x1="96.03" y1="536.3" x2="98.22" y2="536.3" stroke="#404040" stroke-width="0.62"/>
<line x1="115.57" y1="501.2" x2="115.57" y2="531.6" stroke="#404040" stroke-width="0.62"/>
<line x1="114.47" y1="501.2" x2="116.67" y2="501.2" stroke="#404040" stroke-width="0.62"/>
<line x1="114.47" y1="531.6" x2="116.67" y2="531.6" stroke="#404040" stroke-width="0.62"/>
<rect x="144" y="548.9" width="18.7" height="48.5" fill="#b8e0d3"/>
<rect x="162.7" y="531.3" width="18.7" height="66.1" fill="#f5e6b0"/>
<rect x="181.4" y="532" width="18.7" height="65.4" fill="#f2c1c0"/>
<rect x="200.1" y="516.4" width="18.7" height="81" fill="#999999"/>
<line x1="153.35" y1="528.5" x2="153.35" y2="569.4" stroke="#404040" stroke-width="0.62"/>
<line x1="152.25" y1="528.5" x2="154.45" y2="528.5" stroke="#404040" stroke-width="0.62"/>
<line x1="152.25" y1="569.4" x2="154.45" y2="569.4" stroke="#404040" stroke-width="0.62"/>
<line x1="172.05" y1="517.3" x2="172.05" y2="564.3" stroke="#404040" stroke-width="0.62"/>
<line x1="170.95" y1="517.3" x2="173.15" y2="517.3" stroke="#404040" stroke-width="0.62"/>
<line x1="170.95" y1="564.3" x2="173.15" y2="564.3" stroke="#404040" stroke-width="0.62"/>
<line x1="190.75" y1="522.2" x2="190.75" y2="544.4" stroke="#404040" stroke-width="0.62"/>
<line x1="189.65" y1="522.2" x2="191.85" y2="522.2" stroke="#404040" stroke-width="0.62"/>
<line x1="189.65" y1="544.4" x2="191.85" y2="544.4" stroke="#404040" stroke-width="0.62"/>
<line x1="209.45" y1="505.2" x2="209.45" y2="527.4" stroke="#404040" stroke-width="0.62"/>
<line x1="208.35" y1="505.2" x2="210.55" y2="505.2" stroke="#404040" stroke-width="0.62"/>
<line x1="208.35" y1="527.4" x2="210.55" y2="527.4" stroke="#404040" stroke-width="0.62"/>
<rect x="237.2" y="564" width="18.62" height="33.4" fill="#b8e0d3"/>
<rect x="255.82" y="545.4" width="18.62" height="52" fill="#f5e6b0"/>
<rect x="274.44" y="539.3" width="18.62" height="58.1" fill="#f2c1c0"/>
<rect x="293.06" y="521.8" width="18.62" height="75.6" fill="#999999"/>
<line x1="246.51" y1="531.3" x2="246.51" y2="590" stroke="#404040" stroke-width="0.62"/>
<line x1="245.41" y1="531.3" x2="247.61" y2="531.3" stroke="#404040" stroke-width="0.62"/>
<line x1="245.41" y1="590" x2="247.61" y2="590" stroke="#404040" stroke-width="0.62"/>
<line x1="265.13" y1="525.5" x2="265.13" y2="564.3" stroke="#404040" stroke-width="0.62"/>
<line x1="264.03" y1="525.5" x2="266.23" y2="525.5" stroke="#404040" stroke-width="0.62"/>
<line x1="264.03" y1="564.3" x2="266.23" y2="564.3" stroke="#404040" stroke-width="0.62"/>
<line x1="283.75" y1="518.3" x2="283.75" y2="560.1" stroke="#404040" stroke-width="0.62"/>
<line x1="282.65" y1="518.3" x2="284.85" y2="518.3" stroke="#404040" stroke-width="0.62"/>
<line x1="282.65" y1="560.1" x2="284.85" y2="560.1" stroke="#404040" stroke-width="0.62"/>
<line x1="302.37" y1="510.3" x2="302.37" y2="533.2" stroke="#404040" stroke-width="0.62"/>
<line x1="301.27" y1="510.3" x2="303.47" y2="510.3" stroke="#404040" stroke-width="0.62"/>
<line x1="301.27" y1="533.2" x2="303.47" y2="533.2" stroke="#404040" stroke-width="0.62"/>
<line x1="34.1" y1="597.5" x2="324.8" y2="597.5" stroke="#8f8f8f" stroke-width="1.0"/>
<text x="76.1" y="609.9" font-size="8.4" text-anchor="middle" textLength="50.2" lengthAdjust="spacingAndGlyphs">AUC, 3 years</text>
<text x="173.1" y="609.9" font-size="8.4" text-anchor="middle" textLength="50.2" lengthAdjust="spacingAndGlyphs">AUC, 5 years</text>
<text x="266.5" y="609.9" font-size="8.4" text-anchor="middle" textLength="49.4" lengthAdjust="spacingAndGlyphs">AUC, 7 years</text>
<text x="13.6" y="547.8" font-size="8.8" text-anchor="middle" textLength="85.7" lengthAdjust="spacingAndGlyphs" transform="rotate(-90 13.6 547.8)">Time-dependent AUC</text>
<text x="365.5" y="480.9" font-size="12.5" font-weight="bold" fill="#000" style="stroke:#000;stroke-width:0.35px">j</text>
<rect x="423.3" y="483.8" width="7" height="6.8" fill="#9dcfb5"/>
<text x="435.6" y="488.9" font-size="7.6" textLength="42.8" lengthAdjust="spacingAndGlyphs">SL_Imagenet</text>
<rect x="493.1" y="483.8" width="7" height="6.8" fill="#ecae8c"/>
<text x="506.9" y="488.9" font-size="7.6" textLength="25" lengthAdjust="spacingAndGlyphs">DINOv2</text>
<rect x="548.2" y="483.8" width="7" height="6.8" fill="#cccccc"/>
<text x="560.7" y="488.9" font-size="7.6" textLength="35.9" lengthAdjust="spacingAndGlyphs">SwavDerm</text>
<rect x="611.3" y="483.8" width="7" height="6.8" fill="#999999"/>
<text x="624.7" y="488.9" font-size="7.6" textLength="29.9" lengthAdjust="spacingAndGlyphs">PanDerm</text>
<line x1="393.4" y1="498.4" x2="393.4" y2="597.3" stroke="#8c8c8c" stroke-width="0.85"/>
<line x1="390.4" y1="597.3" x2="393.4" y2="597.3" stroke="#8a8a8a" stroke-width="0.8"/>
<text x="387.9" y="599.8" font-size="7.8" text-anchor="end" textLength="10.2" lengthAdjust="spacingAndGlyphs">0.7</text>
<line x1="390.4" y1="564.3" x2="393.4" y2="564.3" stroke="#8a8a8a" stroke-width="0.8"/>
<text x="387.9" y="566.8" font-size="7.8" text-anchor="end" textLength="10.2" lengthAdjust="spacingAndGlyphs">0.8</text>
<line x1="390.4" y1="531.3" x2="393.4" y2="531.3" stroke="#8a8a8a" stroke-width="0.8"/>
<text x="387.9" y="533.8" font-size="7.8" text-anchor="end" textLength="10.2" lengthAdjust="spacingAndGlyphs">0.9</text>
<line x1="390.4" y1="498.3" x2="393.4" y2="498.3" stroke="#8a8a8a" stroke-width="0.8"/>
<text x="387.9" y="500.8" font-size="7.8" text-anchor="end" textLength="9" lengthAdjust="spacingAndGlyphs">1.0</text>
<rect x="406.9" y="525.3" width="18.5" height="72" fill="#9dcfb5"/>
<rect x="425.4" y="522.7" width="18.5" height="74.6" fill="#ecae8c"/>
<rect x="443.9" y="524.1" width="18.5" height="73.2" fill="#cccccc"/>
<rect x="462.4" y="515" width="18.5" height="82.3" fill="#999999"/>
<line x1="416.15" y1="508.7" x2="416.15" y2="541.4" stroke="#404040" stroke-width="0.62"/>
<line x1="415.05" y1="508.7" x2="417.25" y2="508.7" stroke="#404040" stroke-width="0.62"/>
<line x1="415.05" y1="541.4" x2="417.25" y2="541.4" stroke="#404040" stroke-width="0.62"/>
<line x1="434.65" y1="510.3" x2="434.65" y2="534.8" stroke="#404040" stroke-width="0.62"/>
<line x1="433.55" y1="510.3" x2="435.75" y2="510.3" stroke="#404040" stroke-width="0.62"/>
<line x1="433.55" y1="534.8" x2="435.75" y2="534.8" stroke="#404040" stroke-width="0.62"/>
<line x1="453.15" y1="513.4" x2="453.15" y2="534.4" stroke="#404040" stroke-width="0.62"/>
<line x1="452.05" y1="513.4" x2="454.25" y2="513.4" stroke="#404040" stroke-width="0.62"/>
<line x1="452.05" y1="534.4" x2="454.25" y2="534.4" stroke="#404040" stroke-width="0.62"/>
<line x1="471.65" y1="501.2" x2="471.65" y2="528.5" stroke="#404040" stroke-width="0.62"/>
<line x1="470.55" y1="501.2" x2="472.75" y2="501.2" stroke="#404040" stroke-width="0.62"/>
<line x1="470.55" y1="528.5" x2="472.75" y2="528.5" stroke="#404040" stroke-width="0.62"/>
<rect x="500" y="536.3" width="18.58" height="61" fill="#9dcfb5"/>
<rect x="518.58" y="531.3" width="18.58" height="66" fill="#ecae8c"/>
<rect x="537.16" y="537.7" width="18.58" height="59.6" fill="#cccccc"/>
<rect x="555.74" y="521.3" width="18.58" height="76" fill="#999999"/>
<line x1="509.29" y1="513.8" x2="509.29" y2="558.9" stroke="#404040" stroke-width="0.62"/>
<line x1="508.19" y1="513.8" x2="510.39" y2="513.8" stroke="#404040" stroke-width="0.62"/>
<line x1="508.19" y1="558.9" x2="510.39" y2="558.9" stroke="#404040" stroke-width="0.62"/>
<line x1="527.87" y1="513.4" x2="527.87" y2="549.6" stroke="#404040" stroke-width="0.62"/>
<line x1="526.77" y1="513.4" x2="528.97" y2="513.4" stroke="#404040" stroke-width="0.62"/>
<line x1="526.77" y1="549.6" x2="528.97" y2="549.6" stroke="#404040" stroke-width="0.62"/>
<line x1="546.45" y1="515" x2="546.45" y2="560" stroke="#404040" stroke-width="0.62"/>
<line x1="545.35" y1="515" x2="547.55" y2="515" stroke="#404040" stroke-width="0.62"/>
<line x1="545.35" y1="560" x2="547.55" y2="560" stroke="#404040" stroke-width="0.62"/>
<line x1="565.03" y1="506.4" x2="565.03" y2="536.3" stroke="#404040" stroke-width="0.62"/>
<line x1="563.93" y1="506.4" x2="566.13" y2="506.4" stroke="#404040" stroke-width="0.62"/>
<line x1="563.93" y1="536.3" x2="566.13" y2="536.3" stroke="#404040" stroke-width="0.62"/>
<rect x="593" y="538.8" width="18.63" height="58.5" fill="#9dcfb5"/>
<rect x="611.63" y="537" width="18.63" height="60.3" fill="#ecae8c"/>
<rect x="630.26" y="542.8" width="18.63" height="54.5" fill="#cccccc"/>
<rect x="648.89" y="529" width="18.63" height="68.3" fill="#999999"/>
<line x1="602.32" y1="520.4" x2="602.32" y2="563.8" stroke="#404040" stroke-width="0.62"/>
<line x1="601.22" y1="520.4" x2="603.42" y2="520.4" stroke="#404040" stroke-width="0.62"/>
<line x1="601.22" y1="563.8" x2="603.42" y2="563.8" stroke="#404040" stroke-width="0.62"/>
<line x1="620.95" y1="522" x2="620.95" y2="564.3" stroke="#404040" stroke-width="0.62"/>
<line x1="619.85" y1="522" x2="622.05" y2="522" stroke="#404040" stroke-width="0.62"/>
<line x1="619.85" y1="564.3" x2="622.05" y2="564.3" stroke="#404040" stroke-width="0.62"/>
<line x1="639.58" y1="523.2" x2="639.58" y2="558.7" stroke="#404040" stroke-width="0.62"/>
<line x1="638.48" y1="523.2" x2="640.68" y2="523.2" stroke="#404040" stroke-width="0.62"/>
<line x1="638.48" y1="558.7" x2="640.68" y2="558.7" stroke="#404040" stroke-width="0.62"/>
<line x1="658.21" y1="519.4" x2="658.21" y2="538.4" stroke="#404040" stroke-width="0.62"/>
<line x1="657.11" y1="519.4" x2="659.31" y2="519.4" stroke="#404040" stroke-width="0.62"/>
<line x1="657.11" y1="538.4" x2="659.31" y2="538.4" stroke="#404040" stroke-width="0.62"/>
<line x1="390.4" y1="597.5" x2="680.8" y2="597.5" stroke="#8f8f8f" stroke-width="1.0"/>
<text x="444.1" y="609.9" font-size="8.4" text-anchor="middle" textLength="50.2" lengthAdjust="spacingAndGlyphs">AUC, 3 years</text>
<text x="537.1" y="609.9" font-size="8.4" text-anchor="middle" textLength="46.2" lengthAdjust="spacingAndGlyphs">AUC, 5 year</text>
<text x="630.3" y="609.9" font-size="8.4" text-anchor="middle" textLength="49.5" lengthAdjust="spacingAndGlyphs">AUC, 7 years</text>
<text x="370" y="547.9" font-size="8.8" text-anchor="middle" textLength="85.7" lengthAdjust="spacingAndGlyphs" transform="rotate(-90 370 547.9)">Time-dependent AUC</text>
</svg>
</body></html>
